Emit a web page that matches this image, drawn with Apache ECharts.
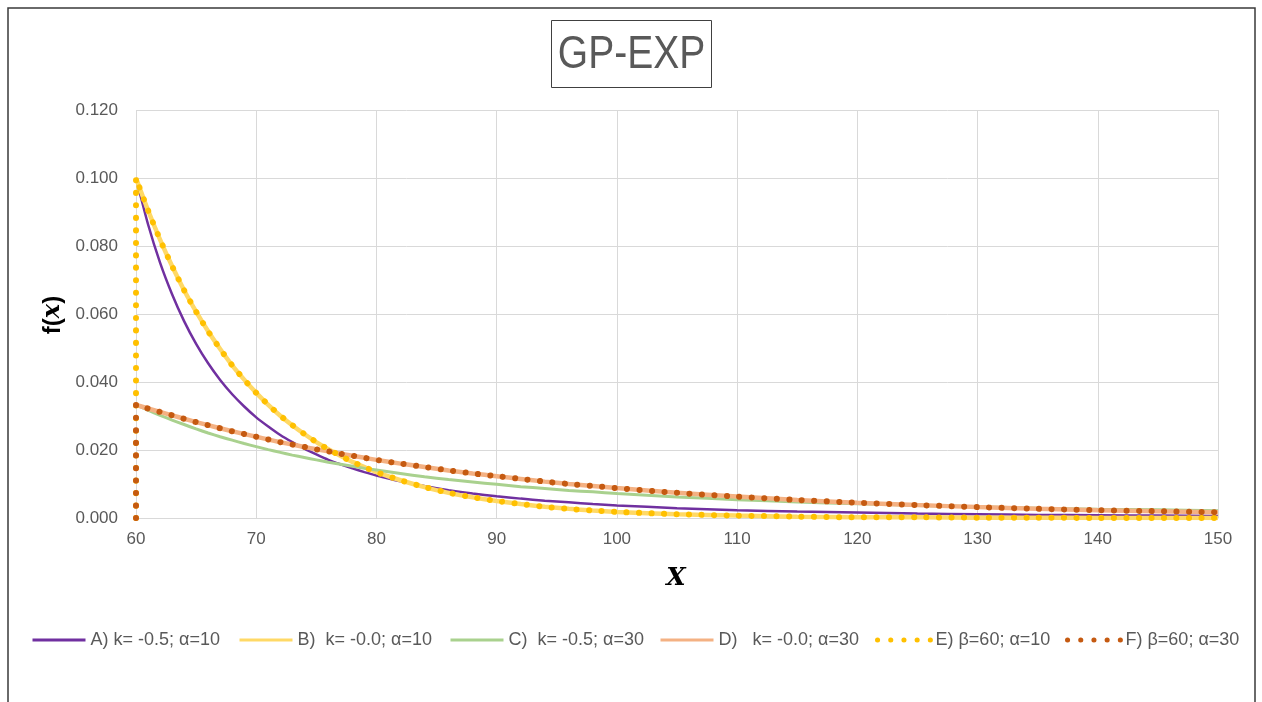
<!DOCTYPE html>
<html>
<head>
<meta charset="utf-8">
<script src="https://cdn.jsdelivr.net/npm/echarts@6/dist/echarts.min.js"></script>
<style>
  html, body { margin: 0; padding: 0; background: #fff; }
  #chart { width: 1262px; height: 702px; }
</style>
</head>
<body>
<div id="chart"></div>
<script>
const xs = [60, 61, 62, 63, 64, 65, 66, 67, 68, 69, 70, 71, 72, 73, 74, 75, 76, 77, 78, 79, 80,
  82, 84, 86, 88, 90, 92, 94, 96, 98, 100,
  105, 110, 115, 120, 125, 130, 135, 140, 145, 150];
// dotted series start with a drop to zero at the threshold
const xsDots = [60, 60, 61, 62, 63, 64, 65, 66, 67, 68, 69, 70, 71, 72, 73, 74, 75, 76, 77, 78, 79, 80,
  82, 84, 86, 88, 90, 92, 94, 96, 98, 100,
  105, 110, 115, 120, 125, 130, 135, 140, 145, 150];

const seriesA = [0.1, 0.0864, 0.0751, 0.0658, 0.0579, 0.0512, 0.0455, 0.0406, 0.0364, 0.0328, 0.0296,
  0.0269, 0.0244, 0.0223, 0.0204, 0.0187, 0.0171, 0.0158, 0.0146, 0.0135, 0.0125,
  0.0108, 0.0094, 0.0082, 0.0072, 0.0064, 0.0057, 0.0051, 0.0046, 0.0041, 0.0037,
  0.0029, 0.0023, 0.0019, 0.0016, 0.0013, 0.0011, 0.0009, 0.0008, 0.0007, 0.0006];
const seriesB = [0.1, 0.0905, 0.0819, 0.0741, 0.067, 0.0607, 0.0549, 0.0497, 0.0449, 0.0407, 0.0368,
  0.0333, 0.0301, 0.0273, 0.0247, 0.0223, 0.0202, 0.0183, 0.0165, 0.015, 0.0135,
  0.0111, 0.0091, 0.0074, 0.0061, 0.005, 0.0041, 0.0033, 0.0027, 0.0022, 0.0018,
  0.0011, 0.0007, 0.0004, 0.0002, 0.0002, 0.0001, 0.0001, 0.0, 0.0, 0.0];
const seriesC = [0.0333, 0.0317, 0.0302, 0.0288, 0.0275, 0.0262, 0.025, 0.0239, 0.0229, 0.0219, 0.021,
  0.0201, 0.0193, 0.0185, 0.0178, 0.0171, 0.0164, 0.0158, 0.0152, 0.0146, 0.0141,
  0.0131, 0.0121, 0.0113, 0.0106, 0.0099, 0.0092, 0.0087, 0.0081, 0.0077, 0.0072,
  0.0062, 0.0054, 0.0047, 0.0042, 0.0037, 0.0033, 0.0029, 0.0026, 0.0024, 0.0021];
const seriesD = [0.0333, 0.0322, 0.0312, 0.0302, 0.0292, 0.0282, 0.0273, 0.0264, 0.0255, 0.0247, 0.0239,
  0.0231, 0.0223, 0.0216, 0.0209, 0.0202, 0.0196, 0.0189, 0.0183, 0.0177, 0.0171,
  0.016, 0.015, 0.014, 0.0131, 0.0123, 0.0115, 0.0107, 0.01, 0.0094, 0.0088,
  0.0074, 0.0063, 0.0053, 0.0045, 0.0038, 0.0032, 0.0027, 0.0023, 0.002, 0.0017];
const seriesE = [0, 0.1, 0.0905, 0.0819, 0.0741, 0.067, 0.0607, 0.0549, 0.0497, 0.0449, 0.0407, 0.0368,
  0.0333, 0.0301, 0.0273, 0.0247, 0.0223, 0.0202, 0.0183, 0.0165, 0.015, 0.0135,
  0.0111, 0.0091, 0.0074, 0.0061, 0.005, 0.0041, 0.0033, 0.0027, 0.0022, 0.0018,
  0.0011, 0.0007, 0.0004, 0.0002, 0.0002, 0.0001, 0.0001, 0.0, 0.0, 0.0];
const seriesF = [0, 0.0333, 0.0322, 0.0312, 0.0302, 0.0292, 0.0282, 0.0273, 0.0264, 0.0255, 0.0247, 0.0239,
  0.0231, 0.0223, 0.0216, 0.0209, 0.0202, 0.0196, 0.0189, 0.0183, 0.0177, 0.0171,
  0.016, 0.015, 0.014, 0.0131, 0.0123, 0.0115, 0.0107, 0.01, 0.0094, 0.0088,
  0.0074, 0.0063, 0.0053, 0.0045, 0.0038, 0.0032, 0.0027, 0.0023, 0.002, 0.0017];

const names = [
  "A) k= -0.5; α=10",
  "B)  k= -0.0; α=10",
  "C)  k= -0.5; α=30",
  "D)   k= -0.0; α=30",
  "E) β=60; α=10",
  "F) β=60; α=30",
];
const colors = ["#7030a0", "#ffd966", "#a9d18e", "#f4b183", "#ffc000", "#c55a11"];
const legendLeft = [31, 238, 449, 659, 875, 1065];

var chartDom = document.getElementById("chart");
var myChart = echarts.init(chartDom);

function zip(x, y) {
  return x.map((v, i) => [v, y[i]]);
}

const textColor = "#595959";
const font = "'Liberation Sans', Arial, sans-serif";

function lineSeries(i, x, y, lineStyle) {
  return {
    name: names[i],
    type: "line",
    symbol: "none",
    smooth: 0.2,
    animation: false,
    lineStyle: Object.assign({ color: colors[i] }, lineStyle),
    itemStyle: { color: colors[i] },
    data: zip(x, y),
  };
}

const legendLine = [
  { width: 3 },
  { width: 3 },
  { width: 3 },
  { width: 3 },
  { width: 5, type: [0.1, 13.1], cap: "round" },
  { width: 5, type: [0.1, 13.1], cap: "round" },
];

var option = {
  backgroundColor: "#fff",
  textStyle: { fontFamily: font },
  legend: names.map((n, i) => ({
    data: [{ name: n, lineStyle: legendLine[i] }],
    left: legendLeft[i],
    top: 631,
    padding: 0,
    itemWidth: 53,
    itemHeight: 20,
    itemGap: 6,
    itemStyle: { opacity: 0 },
    textStyle: { fontSize: 18, color: textColor, fontFamily: font },
  })),
  grid: {
    left: 136,
    right: 44,
    top: 110,
    bottom: 184,
    containLabel: false,
  },
  xAxis: {
    type: "value",
    min: 60,
    max: 150,
    interval: 10,
    axisLine: { show: true, lineStyle: { color: "#d9d9d9" } },
    axisTick: { show: false },
    axisLabel: { color: textColor, fontSize: 17, margin: 13 },
    splitLine: { show: true, lineStyle: { color: "#d9d9d9" } },
  },
  yAxis: {
    type: "value",
    min: 0,
    max: 0.12,
    interval: 0.02,
    axisLine: { show: false },
    axisTick: { show: false },
    axisLabel: {
      color: textColor,
      fontSize: 17,
      margin: 18,
      formatter: (v) => v.toFixed(3),
    },
    splitLine: { show: true, lineStyle: { color: "#d9d9d9" } },
  },
  graphic: [
    {
      type: "rect",
      shape: { x: 8, y: 8, width: 1247, height: 720 },
      style: { fill: "none", stroke: "#3a3a3a", lineWidth: 1.5 },
      silent: true,
    },
    // title box
    {
      type: "rect",
      shape: { x: 551.5, y: 20.5, width: 160, height: 67 },
      style: { fill: "#fff", stroke: "#404040", lineWidth: 1 },
      silent: true,
    },
    {
      type: "text",
      x: 631.5,
      y: 55,
      scaleX: 0.83,
      style: {
        text: "GP-EXP",
        font: "47px 'Liberation Sans', sans-serif",
        fill: textColor,
        align: "center",
        verticalAlign: "middle",
      },
    },
    {
      type: "text",
      x: 676,
      y: 578,
      style: {
        text: "X",
        font: "italic bold 25px 'DejaVu Serif', 'Liberation Serif', serif",
        fill: "#000",
        align: "center",
        verticalAlign: "middle",
      },
    },
    {
      type: "text",
      x: 53,
      y: 315,
      rotation: Math.PI / 2,
      style: {
        text: "{a|f(}{b|x}{a|)}",
        align: "center",
        verticalAlign: "middle",
        rich: {
          a: { fontSize: 24, fontWeight: "bold", fontFamily: "'Liberation Sans', sans-serif", color: "#000" },
          b: { fontSize: 24, fontWeight: "bold", fontStyle: "italic", fontFamily: "'DejaVu Serif', serif", color: "#000" },
        },
      },
    },
  ],
  series: [
    lineSeries(0, xs, seriesA, { width: 2.5 }),
    lineSeries(1, xs, seriesB, { width: 4.5 }),
    lineSeries(2, xs, seriesC, { width: 3 }),
    lineSeries(3, xs, seriesD, { width: 4.5 }),
    lineSeries(4, xsDots, seriesE, { width: 6, type: [0.1, 12.4], cap: "round" }),
    lineSeries(5, xsDots, seriesF, { width: 6, type: [0.1, 12.4], cap: "round" }),
  ],
};

option && myChart.setOption(option);
</script>
</body>
</html>
